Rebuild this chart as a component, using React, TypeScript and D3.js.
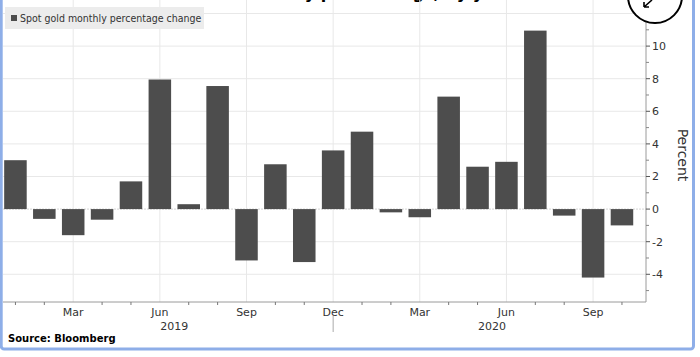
import React from "react";
import * as d3 from "d3";

const months: string[] = [
  "2019-01", "2019-02", "2019-03", "2019-04", "2019-05", "2019-06",
  "2019-07", "2019-08", "2019-09", "2019-10", "2019-11", "2019-12",
  "2020-01", "2020-02", "2020-03", "2020-04", "2020-05", "2020-06",
  "2020-07", "2020-08", "2020-09", "2020-10",
];
const changes: number[] = [
  3.0, -0.6, -1.6, -0.65, 1.7, 7.95, 0.3, 7.55, -3.15, 2.75, -3.25, 3.6,
  4.75, -0.2, -0.5, 6.9, 2.6, 2.9, 10.95, -0.4, -4.2, -1.0,
];
const quarterLabels: { month: string; label: string }[] = [
  { month: "2019-03", label: "Mar" },
  { month: "2019-06", label: "Jun" },
  { month: "2019-09", label: "Sep" },
  { month: "2019-12", label: "Dec" },
  { month: "2020-03", label: "Mar" },
  { month: "2020-06", label: "Jun" },
  { month: "2020-09", label: "Sep" },
];
const years: string[] = ["2019", "2020"];
const yTicks: number[] = [-4, -2, 0, 2, 4, 6, 8, 10, 12];
const yMinorTicks: number[] = [-5, -3, -1, 1, 3, 5, 7, 9, 11];
const seriesName = "Spot gold monthly percentage change";
const titleText = "Gold's monthly price swings, by year";
const sourceText = "Source: Bloomberg";
const axisTitle = "Percent";

const FONT = "'DejaVu Sans', Verdana, sans-serif";

export default function App() {
  const x = d3
    .scaleBand<string>()
    .domain(months)
    .range([1, 636.4])
    .paddingInner(0.22)
    .paddingOuter(0.11);
  const y = d3.scaleLinear().domain([-5.7, 12]).range([302, 13.5]);
  const axisX = 646;
  const baseY = 302;
  const cx = (m: string) => (x(m) as number) + x.bandwidth() / 2;
  const quarterSet = new Set(quarterLabels.map((q) => q.month));

  return (
    <svg
      width={700}
      height={357}
      style={{ position: "absolute", left: 0, top: 0, background: "#fff" }}
    >
      {/* title, cut off at the top as in the screenshot */}
      <text
        x={180}
        y={-1.5}
        fontFamily={FONT}
        fontWeight="bold"
        fontSize={16}
        fill="#000"
      >
        {titleText}
      </text>

      {/* horizontal gridlines */}
      {yTicks.map((t) => (
        <line
          key={"hg" + t}
          x1={3}
          x2={axisX}
          y1={y(t)}
          y2={y(t)}
          stroke={t === 0 ? "#d4d4d4" : "#e8e8e8"}
          strokeWidth={1}
          strokeDasharray={t === 0 ? "2,1" : undefined}
        />
      ))}
      {/* vertical gridlines */}
      {quarterLabels.map((q) => (
        <line
          key={"vg" + q.month}
          x1={cx(q.month)}
          x2={cx(q.month)}
          y1={0}
          y2={baseY}
          stroke="#e8e8e8"
          strokeWidth={1}
        />
      ))}

      {/* legend */}
      <rect x={5} y={7} width={199} height={22} fill="#ececec" />
      <rect x={11} y={15} width={6} height={6} fill="#4d4d4d" />
      <text
        x={20}
        y={22}
        fontFamily="'DejaVu Sans Condensed', 'DejaVu Sans', sans-serif"
        fontSize={10.5}
        fill="#333"
      >
        {seriesName}
      </text>

      {/* bars */}
      {months.map((m, i) => {
        const v = changes[i];
        const y0 = y(0);
        const y1 = y(v);
        return (
          <rect
            key={m}
            x={x(m)}
            y={Math.min(y0, y1)}
            width={x.bandwidth()}
            height={Math.abs(y1 - y0)}
            fill="#4d4d4d"
          />
        );
      })}

      {/* x axis */}
      <line x1={3} x2={axisX} y1={baseY} y2={baseY} stroke="#9a9a9a" strokeWidth={1} />
      {months
        .filter((m) => !quarterSet.has(m))
        .map((m) => (
          <line
            key={"xt" + m}
            x1={cx(m)}
            x2={cx(m)}
            y1={baseY}
            y2={baseY + 3}
            stroke="#777"
            strokeWidth={1}
          />
        ))}
      {quarterLabels.map((q) => (
        <text
          key={"xl" + q.month}
          x={cx(q.month)}
          y={315.5}
          textAnchor="middle"
          fontFamily={FONT}
          fontSize={11}
          fill="#333"
        >
          {q.label}
        </text>
      ))}
      {years.map((yr) => {
        const ms = months.filter((m) => m.startsWith(yr));
        const mid = (cx(ms[0]) + cx(ms[ms.length - 1])) / 2;
        return (
          <text
            key={yr}
            x={mid}
            y={329.5}
            textAnchor="middle"
            fontFamily={FONT}
            fontSize={11}
            fill="#333"
          >
            {yr}
          </text>
        );
      })}
      <line
        x1={cx("2019-12")}
        x2={cx("2019-12")}
        y1={316}
        y2={332}
        stroke="#aaa"
        strokeWidth={1}
      />

      {/* y axis */}
      <line x1={axisX} x2={axisX} y1={0} y2={baseY} stroke="#9a9a9a" strokeWidth={1} />
      {yMinorTicks.map((t) => (
        <line
          key={"ym" + t}
          x1={axisX}
          x2={axisX + 3}
          y1={y(t)}
          y2={y(t)}
          stroke="#888"
          strokeWidth={1}
        />
      ))}
      {yTicks.map((t) => (
        <g key={"yt" + t}>
          <line
            x1={axisX}
            x2={axisX + 4}
            y1={y(t)}
            y2={y(t)}
            stroke="#555"
            strokeWidth={1}
          />
          <text
            x={axisX + 6}
            y={y(t) + 4}
            fontFamily={FONT}
            fontSize={11}
            fill="#333"
          >
            {t < 0 ? "-" + Math.abs(t) : String(t)}
          </text>
        </g>
      ))}
      <text
        transform="translate(678,155) rotate(90)"
        textAnchor="middle"
        fontFamily={FONT}
        fontSize={14}
        fill="#333"
      >
        {axisTitle}
      </text>

      {/* annotation circle */}
      <circle cx={655} cy={-4} r={27} fill="#fff" stroke="#000" strokeWidth={2} />
      <path
        d="M652,0 L644,7 M644,7 L644,2 M644,7 L649,7"
        stroke="#000"
        strokeWidth={1.6}
        fill="none"
      />

      {/* source */}
      <text
        x={8}
        y={342}
        fontFamily={FONT}
        fontWeight="bold"
        fontSize={10}
        fill="#000"
      >
        {sourceText}
      </text>

      {/* screenshot frame */}
      <rect
        x={1.2}
        y={-6}
        width={692.3}
        height={355}
        rx={3}
        fill="none"
        stroke="#8eaee8"
        strokeWidth={3}
      />
    </svg>
  );
}
